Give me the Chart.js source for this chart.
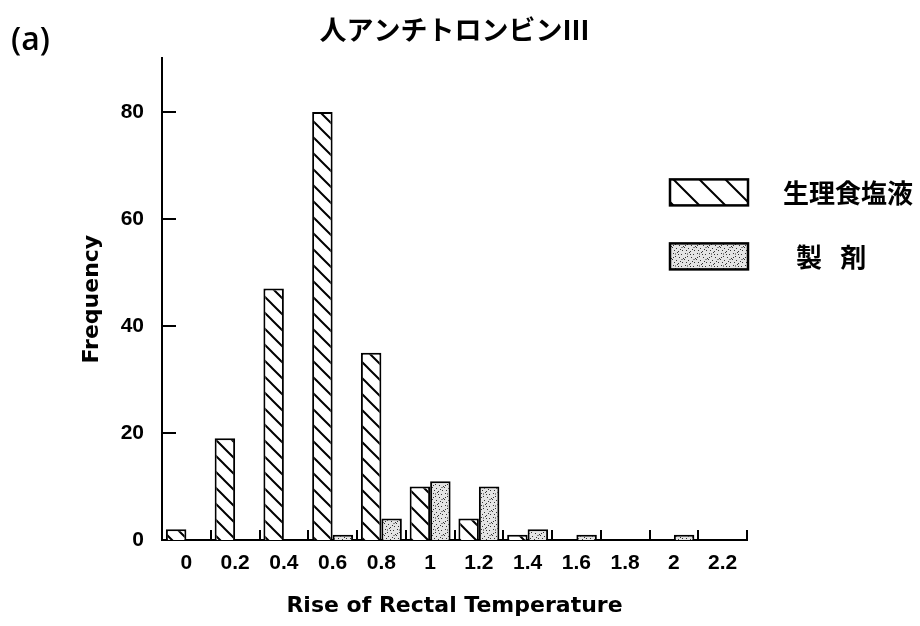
<!DOCTYPE html>
<html lang="ja">
<head>
<meta charset="utf-8">
<title>人アンチトロンビンⅢ</title>
<script src="https://cdn.jsdelivr.net/npm/chart.js@4.4.1/dist/chart.umd.min.js"></script>
<style>
  body { margin: 0; background: #fff; }
  #grafico { width: 920px; height: 626px; }
</style>
</head>
<body>
<div id="grafico"><canvas id="lienzo" width="920" height="626"></canvas></div>
<script>
// Datos
const categorias = ['0', '0.2', '0.4', '0.6', '0.8', '1', '1.2', '1.4', '1.6', '1.8', '2', '2.2']
const salino = [2, 19, 47, 80, 35, 10, 4, 1, 0, 0, 0, 0]
const preparado = [0, 0, 0, 1, 4, 11, 10, 2, 1, 0, 1, 0]
const ticksY = [0, 20, 40, 60, 80]
const etiquetas = ['生理食塩液', '\u2002製\u2002\u2009剤']

const fuenteNum = '"Liberation Sans", Arial, sans-serif'
const fuenteTitulo = '"DejaVu Sans", sans-serif'
const fuenteCJK = '"Noto Sans CJK JP", sans-serif'

// Patron de rayas diagonales "\"
function crearRayado(paso) {
    const c = document.createElement('canvas')
    c.width = paso
    c.height = paso
    const g = c.getContext('2d')
    g.fillStyle = '#fff'
    g.fillRect(0, 0, paso, paso)
    g.strokeStyle = '#000'
    g.lineWidth = 2
    g.beginPath()
    g.moveTo(0, 0); g.lineTo(paso, paso)
    g.moveTo(-2, paso - 2); g.lineTo(2, paso + 2)
    g.moveTo(paso - 2, -2); g.lineTo(paso + 2, 2)
    g.stroke()
    return g.createPattern(c, 'repeat')
}

// Patron punteado gris (textura fija)
function crearPunteado() {
    const c = document.createElement('canvas')
    c.width = 12
    c.height = 12
    const g = c.getContext('2d')
    g.fillStyle = '#e4e4e4'
    g.fillRect(0, 0, 12, 12)
    const puntos = [[1,1],[5,0],[9,2],[3,4],[7,5],[11,6],[0,7],[4,8],[8,9],[2,10],[6,11],[10,10],[6,2],[1,5]]
    g.fillStyle = '#333'
    puntos.forEach(p => g.fillRect(p[0], p[1], 1, 1))
    g.fillStyle = '#888'
    g.fillRect(9, 7, 2, 1)
    g.fillRect(3, 1, 1, 2)
    return g.createPattern(c, 'repeat')
}

const rayado = crearRayado(16)
const punteado = crearPunteado()
const rayadoLeyenda = crearRayado(26)

// Marcas internas de los ejes
const marcas = {
    id: 'marcas',
    afterDatasetsDraw(chart) {
        const { ctx, chartArea, scales: { x, y } } = chart
        ctx.save()
        ctx.strokeStyle = '#000'
        ctx.lineWidth = 2
        ctx.beginPath()
        y.ticks.forEach(t => {
            if (t.value === 0) return
            const py = Math.round(y.getPixelForValue(t.value))
            ctx.moveTo(chartArea.left, py)
            ctx.lineTo(chartArea.left + 14, py)
        })
        const n = categorias.length
        for (let i = 1; i <= n; i++) {
            const px = Math.round(x.left + i * (x.width / n))
            ctx.moveTo(px, chartArea.bottom)
            ctx.lineTo(px, chartArea.bottom - 10)
        }
        ctx.stroke()
        ctx.restore()
    }
}

// Leyenda dibujada a mano
const leyenda = {
    id: 'leyenda',
    afterDraw(chart) {
        const { ctx, chartArea } = chart
        const rellenos = [rayadoLeyenda, punteado]
        ctx.save()
        chart.data.datasets.forEach((ds, i) => {
            const bx = chartArea.right - 77
            const by = chartArea.top + 121 + i * 64
            ctx.fillStyle = rellenos[i]
            ctx.fillRect(bx, by, 78, 26)
            ctx.strokeStyle = '#000'
            ctx.lineWidth = 2.5
            ctx.strokeRect(bx, by, 78, 26)
            ctx.fillStyle = '#000'
            ctx.font = 'bold 26px ' + fuenteCJK
            ctx.textBaseline = 'middle'
            ctx.textAlign = 'left'
            ctx.fillText(ds.label, bx + 113, by + 14)
        })
        ctx.restore()
    }
}

// Rotulo del panel
const rotulo = {
    id: 'rotulo',
    afterDraw(chart) {
        const ctx = chart.ctx
        ctx.save()
        ctx.fillStyle = '#000'
        ctx.font = '600 32px "Open Sans", Lato, sans-serif'
        ctx.textBaseline = 'middle'
        ctx.textAlign = 'left'
        ctx.fillText('(a)', 11, 41)
        ctx.restore()
    }
}

const contexto = document.querySelector('#lienzo').getContext('2d')
const grafico = new Chart(contexto, {
    type: 'bar',
    data: {
        labels: categorias,
        datasets: [
            { label: etiquetas[0], data: salino, backgroundColor: rayado, borderColor: '#000', borderWidth: 2, borderSkipped: 'bottom' },
            { label: etiquetas[1], data: preparado, backgroundColor: punteado, borderColor: '#000', borderWidth: 2, borderSkipped: 'bottom' }
        ]
    },
    options: {
        responsive: false,
        animation: false,
        layout: { padding: { left: 0, right: 173, top: 0, bottom: 0 } },
        datasets: { bar: { categoryPercentage: 0.84, barPercentage: 1 } },
        plugins: {
            legend: { display: false },
            tooltip: { enabled: false },
            title: {
                display: true,
                text: '人アンチトロンビンⅢ',
                fullSize: false,
                color: '#000',
                font: { family: fuenteCJK, size: 27, weight: 'bold', lineHeight: 1.2 },
                padding: { top: 14, bottom: 12 }
            }
        },
        scales: {
            x: {
                grid: { display: false, drawTicks: false },
                border: { display: true, color: '#000', width: 2 },
                ticks: { color: '#000', font: { family: fuenteNum, size: 21, weight: 'bold' }, padding: 11, maxRotation: 0, autoSkip: false },
                title: {
                    display: true,
                    text: 'Rise of Rectal Temperature',
                    color: '#000',
                    font: { family: fuenteTitulo, size: 22, weight: 'bold', lineHeight: 1.2 },
                    padding: { top: 0, bottom: 7 }
                },
                afterFit: s => { s.height = 86 }
            },
            y: {
                min: 0,
                max: 90,
                grid: { display: false, drawTicks: false },
                border: { display: true, color: '#000', width: 2 },
                ticks: { color: '#000', font: { family: fuenteNum, size: 21, weight: 'bold' }, padding: 18 },
                afterBuildTicks: s => { s.ticks = ticksY.map(v => ({ value: v })) },
                title: {
                    display: true,
                    text: 'Frequency',
                    color: '#000',
                    font: { family: fuenteTitulo, size: 22, weight: 'bold', lineHeight: 1.2 },
                    padding: { top: 79, bottom: 0 }
                },
                afterFit: s => { s.width = 162 }
            }
        }
    },
    plugins: [marcas, leyenda, rotulo]
})
</script>
</body>
</html>
